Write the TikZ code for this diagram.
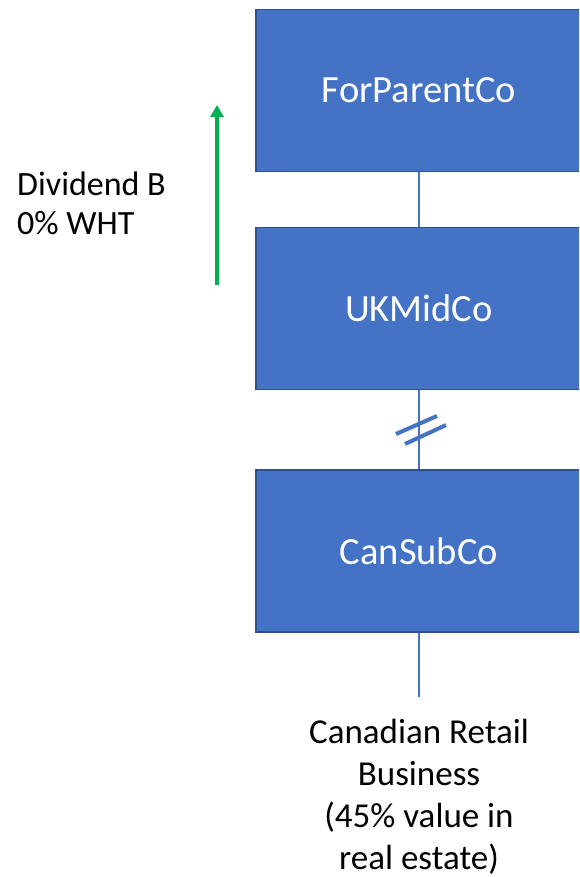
\documentclass[tikz,border=0pt]{standalone}
\usepackage{fontspec}
\setmainfont{Carlito}
\usepackage{tikz}
\usetikzlibrary{arrows.meta}
\definecolor{boxc}{HTML}{4472C4}
\definecolor{edgec}{HTML}{2F528F}
\definecolor{divc}{HTML}{00B050}

\tikzset{
  entity/.style={draw=edgec,line width=1.4pt,fill=boxc,text=white,
    minimum width=326pt,minimum height=162pt,inner sep=0pt,
    font=\fontsize{38.5}{46}\selectfont},
  owns/.style={boxc,line width=1.2pt},
  note/.style={inner sep=0pt,font=\fontsize{34}{39}\selectfont}
}

\begin{document}
\begin{tikzpicture}[x=1pt,y=-1pt]
  \useasboundingbox (0,0) rectangle (579,877);
  \clip (0,0) rectangle (579,877);
  \node[entity] (parent) at (419,90.5) {ForParentCo};
  \node[entity] (mid) at (419,308.5) {UKMidCo};
  \node[entity] (sub) at (419,551) {CanSubCo};
  \coordinate (biz) at (419,697);
  \draw[owns] (parent.south) -- (mid.north);
  \draw[owns] (mid.south) -- (sub.north);
  \draw[owns] (sub.south) -- (biz);
  % break marks on the UK--Canada link
  \coordinate (brk) at (421,430);
  \draw[boxc,line width=4pt] ([shift={(-25,4)}]brk) -- ([shift={(16,-14)}]brk);
  \draw[boxc,line width=4pt] ([shift={(-16,14)}]brk) -- ([shift={(25,-5)}]brk);
  \node[note,anchor=north,align=center,font=\fontsize{35}{42}\selectfont] (bizlbl) at (biz) [yshift=-22pt] {Canadian Retail\\Business\\(45\% value in\\real estate)};
  \coordinate (divfrom) at (217,285);
  \coordinate (divto) at (217,105);
  \draw[divc,line width=4.5pt,-{Triangle[width=13pt,length=12pt]}] (divfrom) -- (divto);
  \node[note,anchor=north west,align=left] (divlbl) at (17,172) {Dividend B\\0\% WHT};
\end{tikzpicture}
\end{document}
